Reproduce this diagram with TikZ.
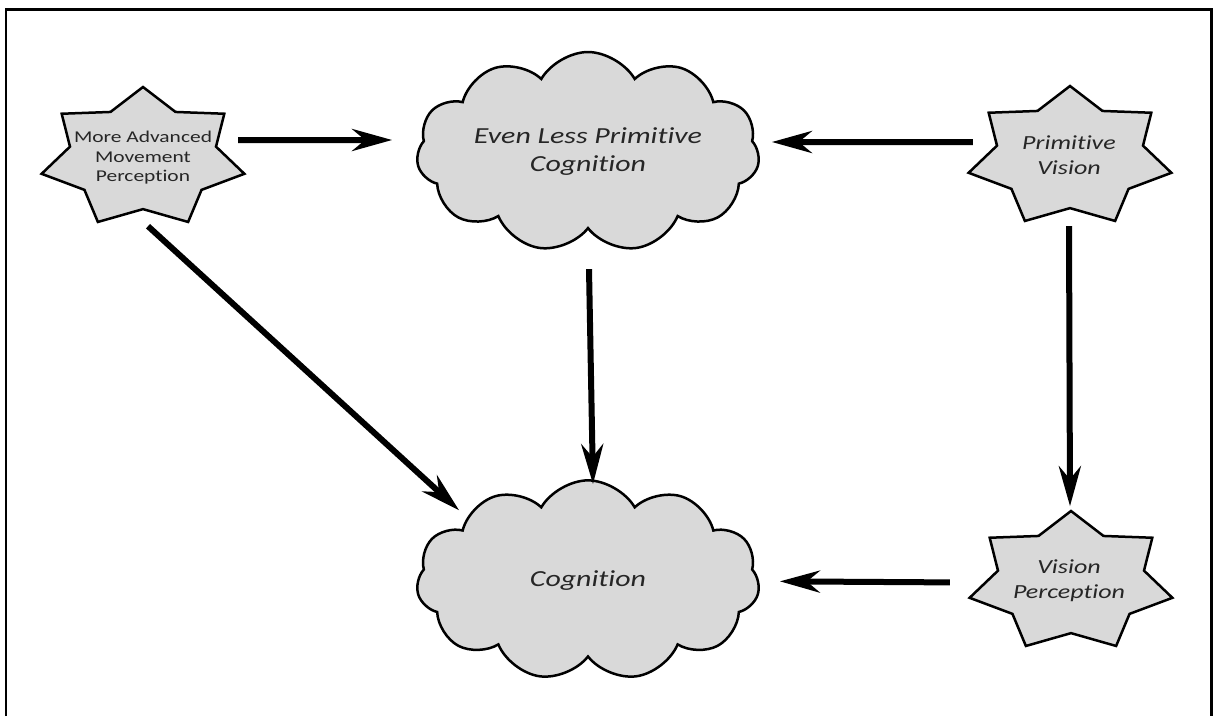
\documentclass[tikz,border=0pt]{standalone}
\usepackage{fontspec}
\setmainfont{Carlito}[Ligatures=CommonOff]
\usepackage{graphicx}
\usetikzlibrary{positioning,arrows.meta,shapes.symbols}
\newcommand{\widetxt}[1]{\scalebox{1.3}[1]{#1}}
% seven pointed star, drawn wide
\newcommand{\sevenstar}[1]{%
  \filldraw[starshape, shift={(#1)}] (90:104pt and 71pt)
    \foreach \k in {1,...,13}{ -- ({90+\k*360/14}:{104pt*(1-0.28*mod(\k,2))} and {71pt*(1-0.28*mod(\k,2))}) } -- cycle;}
\tikzset{
  starshape/.style={draw=black, fill=black!15, line width=2.5pt, line join=miter},
  startext/.style={minimum width=170pt, minimum height=110pt, inner sep=0pt, align=center, text=black!85},
  cloudnode/.style={cloud, cloud puffs=11, cloud puff arc=120, cloud ignores aspect, draw=black, fill=black!15,
                    line width=2.5pt, minimum width=343pt, minimum height=200pt, align=center, text=black!85,
                    font=\itshape\fontsize{23}{28}\selectfont},
  fwd/.style={-{Stealth[length=40pt,width=22pt]}, line width=6pt},
  outerframe/.style={line width=2.5pt},
}
\begin{document}
\begin{tikzpicture}[x=1pt, y=-1pt]
  \useasboundingbox (0,0) rectangle (1213,716);
  \draw[outerframe] (6,716) -- (6,9.5) -- (1211.5,9.5) -- (1211.5,716);

  \sevenstar{143,158}
  \sevenstar{1070,157}
  \sevenstar{1071,582}

  \node[startext, font=\fontsize{16.5}{19.5}\selectfont] (node1) at (143,158)
    {\widetxt{More Advanced}\\\widetxt{Movement}\\\widetxt{Perception}};
  \node[startext, font=\itshape\fontsize{20}{25}\selectfont] (node2) at (1069,155)
    {\widetxt{Primitive}\\\widetxt{Vision}};
  \node[startext, font=\itshape\fontsize{20}{25}\selectfont] (node3) [below=315pt of node2]
    {\widetxt{Vision}\\\widetxt{Perception}};
  \node[cloudnode] (node4) at (588,152) {\widetxt{Even Less Primitive}\\\widetxt{Cognition}};
  \node[cloudnode] (node5) [below=249pt of node4] {\widetxt{Cognition}};

  \draw[fwd] ([shift={(10pt,18pt)}]node1.east) -- ([shift={(-24.5pt,12pt)}]node4.west);
  \draw[fwd] ([shift={(-11pt,13pt)}]node2.west) -- ([shift={(12.5pt,10pt)}]node4.east);
  \draw[fwd] ([shift={(1pt,-39pt)}]node4.south) -- ([shift={(5pt,-5pt)}]node5.north);
  \draw[fwd] ([shift={(5pt,-13pt)}]node1.south) -- ([shift={(42.5pt,70pt)}]node5.west);
  \draw[fwd] ([shift={(0pt,-16pt)}]node2.south) -- ([shift={(1pt,19pt)}]node3.north);
  \draw[fwd] ([shift={(-34pt,-2pt)}]node3.west) -- ([shift={(20.5pt,-1pt)}]node5.east);
\end{tikzpicture}
\end{document}
